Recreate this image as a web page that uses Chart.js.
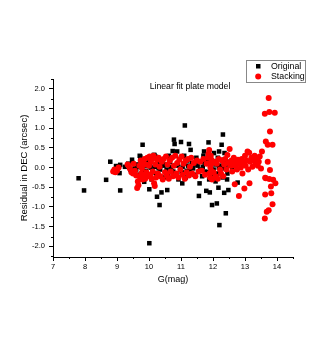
<!DOCTYPE html>
<html>
<head>
<meta charset="utf-8">
<script src="https://cdn.jsdelivr.net/npm/chart.js@4"></script>
<style>
  html, body { margin: 0; padding: 0; background: #fff; }
  #wrap { width: 327px; height: 345px; }
</style>
</head>
<body>
<div id="wrap"><canvas id="residChart"></canvas></div>
<script>
// Original (black squares): G magnitude and DEC residual
const origG = [7.80, 7.97, 8.66, 8.79, 8.97, 9.10, 9.08, 9.10, 9.25, 9.35, 9.42, 9.48, 9.55, 9.62, 9.68, 9.71,
  9.75, 9.80, 9.82, 9.85, 9.88, 9.92, 9.95, 10.01, 10.01, 10.03, 10.08, 10.12, 10.15, 10.18, 10.20, 10.22,
  10.25, 10.28, 10.33, 10.35, 10.39, 10.42, 10.47, 10.52, 10.57, 10.60, 10.62, 10.66, 10.70, 10.74, 10.78,
  10.80, 10.83, 10.86, 10.88, 10.92, 10.95, 11.00, 11.02, 11.04, 11.07, 11.10, 11.12, 11.15, 11.20, 11.25,
  11.28, 11.30, 11.35, 11.42, 11.48, 11.52, 11.56, 11.58, 11.62, 11.66, 11.70, 11.72, 11.76, 11.79, 11.82,
  11.86, 11.88, 11.90, 11.93, 11.97, 12.00, 12.03, 12.06, 12.08, 12.12, 12.15, 12.17, 12.19, 12.20, 12.22,
  12.25, 12.27, 12.30, 12.31, 12.33, 12.35, 12.36, 12.40, 12.42, 12.45, 12.48, 12.52, 12.60, 12.77,
  9.60, 9.73, 9.90, 10.05, 10.10, 10.30, 10.45, 10.55, 10.68, 10.76, 10.90, 10.98, 11.05, 11.18, 11.22,
  11.38, 11.45, 11.60, 11.68, 11.74, 11.84, 11.95, 12.02, 12.10, 12.13, 12.18, 12.28, 12.38, 12.44, 12.50,
  9.47, 9.73, 10.17];
const origRes = [-0.27, -0.58, -0.31, 0.15, 0.04, 0.07, -0.14, -0.58, 0.02, 0.10, -0.05, 0.12, -0.02, 0.08, -0.18, 0.30,
  0.22, 0.58, -0.10, -0.36, 0.05, 0.18, -0.22, -0.55, -1.92, 0.10, -0.30, 0.25, 0.32, 0.02, 0.28, -0.15,
  -0.74, 0.12, -0.95, -0.05, -0.63, 0.20, -0.25, 0.08, -0.57, -0.18, 0.30, 0.15, -0.08, 0.42, 0.71,
  0.60, -0.20, 0.05, 0.41, -0.30, 0.22, 0.65, -0.12, -0.40, 0.10, 0.30, 1.07, -0.25, 0.18, 0.60,
  -0.05, 0.45, 0.12, -0.18, 0.25, 0.05, -0.72, -0.40, 0.15, -0.22, 0.30, 0.41, -0.10, -0.59, 0.20,
  0.64, -0.30, -0.63, 0.08, -0.95, -0.20, 0.37, 0.15, -0.35, -0.91, 0.25, -0.51, 0.41, -1.46, -0.10,
  0.05, 0.58, -0.25, 0.84, 0.20, -0.64, 0.37, -1.16, 0.10, -0.15, -0.57, 0.05, -0.05, -0.38,
  -0.05, 0.02, -0.08, 0.00, -0.12, -0.02, 0.05, -0.05, 0.02, -0.10, 0.08, -0.05, 0.02, -0.08, 0.05,
  -0.02, 0.08, -0.05, 0.02, 0.12, -0.12, 0.02, -0.05, 0.08, -0.15, 0.00, -0.02, 0.02, -0.30, 0.15,
  0.20, 0.28, 0.32];

// Stacking (red circles)
const stackG = [8.88, 8.92, 8.95, 9.00, 9.05, 9.33, 9.36, 9.40, 9.45, 9.50, 9.52, 9.56, 9.60, 9.63, 9.65, 9.67,
  9.70, 9.72, 9.74, 9.76, 9.78, 9.80, 9.82, 9.84, 9.86, 9.88, 9.90, 9.92, 9.95, 9.97, 10.00, 10.02,
  10.04, 10.06, 10.08, 10.10, 10.12, 10.14, 10.16, 10.18, 10.20, 10.22, 10.25, 10.28, 10.30, 10.33, 10.36,
  10.40, 10.43, 10.46, 10.50, 10.53, 10.56, 10.58, 10.62, 10.65, 10.68, 10.72, 10.75, 10.78, 10.82, 10.85,
  10.88, 10.92, 10.95, 10.98, 11.02, 11.05, 11.08, 11.12, 11.15, 11.18, 11.22, 11.25, 11.28, 11.32, 11.35,
  11.40, 11.45, 11.50, 11.55, 11.60, 11.65, 11.70, 11.75, 11.80, 11.84, 11.86, 11.88, 11.89, 11.90, 11.91,
  11.92, 11.93, 11.94, 11.95, 11.97, 11.99, 12.02, 12.05, 12.08, 12.12, 12.15, 12.18, 12.22, 12.25, 12.28,
  12.32, 12.35, 12.38, 12.42, 12.45, 12.48, 12.52, 12.55, 12.58, 12.60, 12.62, 12.65, 12.68, 12.70, 12.72,
  12.75, 12.78, 12.81, 12.84, 12.87, 12.90, 12.92, 12.95, 12.98, 13.00, 13.02, 13.05, 13.08, 13.10, 13.13,
  13.14, 13.16, 13.20, 13.23, 13.26, 13.30, 13.33, 13.36, 13.40, 13.43, 13.46, 13.50, 13.53, 13.62, 13.63,
  13.63, 13.62, 13.65, 13.65, 13.68, 13.71, 13.71, 13.74, 13.74, 13.76, 13.76, 13.78, 13.78, 13.81, 13.82,
  13.86, 13.86, 13.88, 13.93, 13.95];
const stackRes = [-0.10, -0.05, -0.12, -0.08, 0.00, 0.08, 0.05, -0.02, -0.12, -0.15, 0.10, -0.08, -0.20, -0.52, -0.35, -0.45,
  0.05, -0.25, 0.18, -0.15, -0.02, -0.30, 0.12, -0.18, 0.22, -0.28, 0.08, -0.12, 0.25, -0.22, 0.05, 0.28,
  -0.18, 0.15, -0.28, 0.22, -0.10, 0.30, -0.40, -0.47, 0.08, -0.25, 0.20, -0.15, 0.25, 0.02, -0.22,
  0.15, -0.30, 0.22, -0.12, 0.28, -0.20, 0.08, -0.28, 0.18, -0.10, 0.25, -0.22, 0.05, 0.30, -0.15,
  0.12, -0.25, 0.20, -0.05, 0.28, -0.18, 0.10, -0.28, 0.18, -0.12, 0.22, -0.20, 0.02, 0.25, -0.15,
  0.12, -0.22, 0.18, -0.10, 0.15, -0.08, 0.22, -0.18, 0.10, 0.25, 0.35, 0.45, -0.15, 0.10, -0.25,
  0.00, 0.30, -0.08, 0.20, -0.30, 0.12, -0.12, 0.15, -0.22, 0.10, -0.28, 0.22, -0.05, -0.15, 0.18,
  -0.22, 0.08, 0.22, -0.05, 0.32, 0.12, 0.47, 0.05, 0.18, -0.10, 0.10, 0.25, -0.42, 0.05, 0.15,
  -0.05, 0.20, -0.72, 0.10, 0.00, 0.22, -0.15, 0.12, -0.53, 0.30, 0.05, 0.18, 0.41, -0.05, 0.38,
  -0.40, 0.15, 0.25, 0.02, 0.20, 0.30, 0.10, 0.22, 0.05, 0.15, 0.28, -0.02, 0.41, 1.37, -0.26,
  -0.68, -1.29, 0.66, -0.27, -1.12, 0.58, 0.15, 1.77, -1.08, 1.41, -0.29, 0.92, -0.06, -0.48, -0.65,
  0.58, -0.93, -0.31, 1.39, -0.40];

const xTicks = [7, 8, 9, 10, 11, 12, 13, 14];
const xMinor = [7.5, 8.5, 9.5, 10.5, 11.5, 12.5, 13.5, 14.5];
const yTicks = [-2.0, -1.5, -1.0, -0.5, 0.0, 0.5, 1.0, 1.5, 2.0];
const yMinor = [-2.25, -1.75, -1.25, -0.75, -0.25, 0.25, 0.75, 1.25, 1.75, 2.25];

const toPoints = (xs, ys) => xs.map((x, i) => ({ x: x, y: ys[i] }));
const FONT = 'Arial, "Liberation Sans", sans-serif';

// minor ticks, inner title and the boxed legend
const extras = {
  id: 'extras',
  afterDraw(chart) {
    const c = chart.ctx;
    const xs = chart.scales.x, ys = chart.scales.y;
    const area = chart.chartArea;
    c.save();
    c.strokeStyle = '#000';
    c.lineWidth = 1;
    c.beginPath();
    xMinor.forEach(v => {
      const px = Math.round(xs.getPixelForValue(v)) + 0.5;
      c.moveTo(px, area.bottom); c.lineTo(px, area.bottom + 2);
    });
    yMinor.forEach(v => {
      const py = Math.round(ys.getPixelForValue(v)) + 0.5;
      c.moveTo(area.left, py); c.lineTo(area.left - 2, py);
    });
    c.stroke();

    c.fillStyle = '#000';
    c.font = '8.7px ' + FONT;
    c.textAlign = 'center';
    c.textBaseline = 'middle';
    c.fillText('Linear fit plate model', 190, 87);

    // legend
    c.strokeStyle = '#888';
    c.strokeRect(246.5, 60.5, 59, 22);
    c.fillStyle = '#000';
    c.fillRect(256, 64, 4.5, 4.5);
    c.fillStyle = '#ff0000';
    c.beginPath();
    c.arc(258.2, 76.5, 3, 0, Math.PI * 2);
    c.fill();
    c.fillStyle = '#000';
    c.font = '8.8px ' + FONT;
    c.textAlign = 'left';
    c.fillText('Original', 271, 66.5);
    c.fillText('Stacking', 271, 77);
    c.restore();
  }
};

const ctx = document.getElementById('residChart').getContext('2d');

new Chart(ctx, {
  type: 'scatter',
  data: {
    datasets: [
      {
        label: 'Original',
        data: toPoints(origG, origRes),
        pointStyle: 'rect',
        pointRadius: 3.2,
        backgroundColor: '#000',
        borderWidth: 0,
        order: 2
      },
      {
        label: 'Stacking',
        data: toPoints(stackG, stackRes),
        pointStyle: 'circle',
        pointRadius: 3,
        backgroundColor: '#ff0000',
        borderWidth: 0,
        order: 1
      }
    ]
  },
  options: {
    responsive: true,
    maintainAspectRatio: false,
    animation: false,
    events: [],
    layout: { padding: { top: 79, right: 34, left: 0, bottom: 0 } },
    plugins: {
      legend: { display: false },
      tooltip: { enabled: false }
    },
    scales: {
      x: {
        type: 'linear',
        min: 7,
        max: 14.5,
        afterFit: s => { s.height = 88; },
        afterBuildTicks: s => { s.ticks = xTicks.map(v => ({ value: v })); },
        border: { color: '#000', width: 1 },
        grid: { drawOnChartArea: false, drawTicks: true, tickLength: 4, color: '#000' },
        ticks: { color: '#000', padding: 1, maxRotation: 0, font: { size: 7.5, family: FONT } },
        title: { display: true, text: 'G(mag)', color: '#000', padding: { bottom: 60 }, font: { size: 9, family: FONT } }
      },
      y: {
        type: 'linear',
        min: -2.27,
        max: 2.25,
        afterFit: s => { s.width = 53; },
        afterBuildTicks: s => { s.ticks = yTicks.map(v => ({ value: v })); },
        border: { color: '#000', width: 1 },
        grid: { drawOnChartArea: false, drawTicks: true, tickLength: 4, color: '#000' },
        ticks: { color: '#000', padding: 4, font: { size: 7.5, family: FONT }, callback: v => v.toFixed(1) },
        title: { display: true, text: 'Residual in DEC (arcsec)', color: '#000', padding: { top: 19 }, font: { size: 9.5, family: FONT } }
      }
    }
  },
  plugins: [extras]
});
</script>
</body>
</html>
